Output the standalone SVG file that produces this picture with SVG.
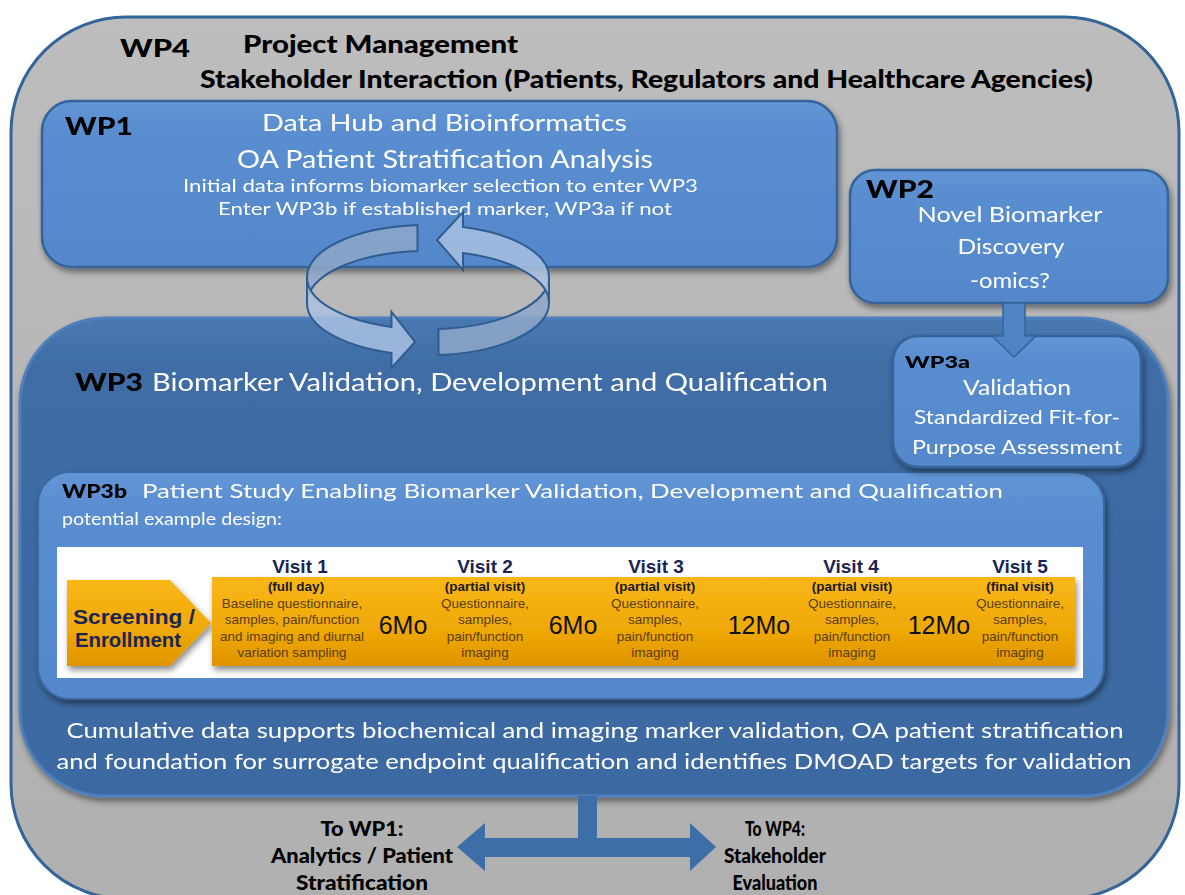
<svg xmlns="http://www.w3.org/2000/svg" width="1185" height="895" viewBox="0 0 1185 895">
<defs>
<style>
.b{font-family:Lato,"Liberation Sans",sans-serif;font-weight:900;fill:#000;}
.w{font-family:Lato,"Open Sans","Liberation Sans",sans-serif;fill:#fff;}
.a{font-family:"Liberation Sans",Arial,sans-serif;}
.vh{font-family:"Liberation Sans",Arial,sans-serif;font-weight:bold;fill:#1b2452;font-size:19px;text-anchor:middle;}
.vs{font-family:"Liberation Sans",Arial,sans-serif;font-weight:bold;fill:#1a1a1a;font-size:13.5px;text-anchor:middle;}
.vl{font-family:"Liberation Sans",Arial,sans-serif;fill:#5a3d12;font-size:13.5px;text-anchor:middle;}
.mo{font-family:"Liberation Sans",Arial,sans-serif;fill:#111;font-size:25px;text-anchor:middle;}
.lb{font-family:Lato,"Liberation Sans",sans-serif;font-weight:900;fill:#000;font-size:21px;text-anchor:middle;}
.box{stroke:#34639a;stroke-width:2.5;}
.ring1{fill:#a9c1e2;fill-opacity:0.85;stroke:#2f5d91;stroke-width:2;}
.ring2{fill:#8ea7c8;fill-opacity:0.85;stroke:#2f5d91;stroke-width:2;}
</style>
<filter id="sh" x="-10%" y="-10%" width="120%" height="130%">
<feDropShadow dx="2" dy="4" stdDeviation="3" flood-color="#000" flood-opacity="0.45"/>
</filter>
<linearGradient id="gOuter" x1="0" y1="0" x2="0" y2="1">
<stop offset="0" stop-color="#bdbdbd"/><stop offset="1" stop-color="#b0b0b0"/>
</linearGradient>
<linearGradient id="gLight" x1="0" y1="0" x2="0" y2="1">
<stop offset="0" stop-color="#6296d6"/><stop offset="0.15" stop-color="#5a8ed0"/><stop offset="1" stop-color="#5488ca"/>
</linearGradient>
<linearGradient id="gDark" x1="0" y1="0" x2="0" y2="1">
<stop offset="0" stop-color="#4a78b0"/><stop offset="0.1" stop-color="#3f6da6"/><stop offset="1" stop-color="#3c69a2"/>
</linearGradient>
<linearGradient id="gOrange" x1="0" y1="0" x2="0" y2="1">
<stop offset="0" stop-color="#f9b718"/><stop offset="0.6" stop-color="#efa806"/><stop offset="1" stop-color="#df9400"/>
</linearGradient>
</defs>

<g id="WP4">
<rect x="11" y="17" width="1168" height="882" rx="115" ry="115" fill="url(#gOuter)" stroke="#33649a" stroke-width="3"/>
<text class="b" x="120" y="57" font-size="25" textLength="70" lengthAdjust="spacingAndGlyphs">WP4</text>
<text class="b" x="243" y="53" font-size="24" textLength="275" lengthAdjust="spacingAndGlyphs">Project  Management</text>
<text class="b" x="200" y="88" font-size="24" textLength="893" lengthAdjust="spacingAndGlyphs">Stakeholder Interaction (Patients, Regulators and Healthcare Agencies)</text>
</g>

<g id="WP1" filter="url(#sh)">
<rect x="42" y="101" width="795" height="166" rx="30" ry="30" fill="url(#gLight)" class="box"/>
<text class="b" x="65" y="135" font-size="24" textLength="68" lengthAdjust="spacingAndGlyphs">WP1</text>
<text class="w" x="262" y="131" font-size="24" textLength="365" lengthAdjust="spacingAndGlyphs">Data Hub and Bioinformatics</text>
<text class="w" x="237" y="168" font-size="25" textLength="416" lengthAdjust="spacingAndGlyphs">OA Patient Stratification Analysis</text>
<text class="w" x="183" y="192" font-size="18" textLength="515" lengthAdjust="spacingAndGlyphs">Initial data informs biomarker selection to enter WP3</text>
<text class="w" x="218" y="215" font-size="18" textLength="454" lengthAdjust="spacingAndGlyphs">Enter WP3b if established marker, WP3a if not</text>
</g>

<g id="WP2" filter="url(#sh)">
<rect x="850" y="170" width="318" height="133" rx="25" ry="25" fill="url(#gLight)" class="box"/>
<text class="b" x="866" y="198" font-size="24" textLength="68" lengthAdjust="spacingAndGlyphs">WP2</text>
<text class="w" x="1010" y="222" font-size="21" text-anchor="middle" textLength="185" lengthAdjust="spacingAndGlyphs">Novel Biomarker</text>
<text class="w" x="1011" y="254" font-size="21" text-anchor="middle" textLength="107" lengthAdjust="spacingAndGlyphs">Discovery</text>
<text class="w" x="1010" y="288" font-size="21" text-anchor="middle" textLength="80" lengthAdjust="spacingAndGlyphs">-omics?</text>
</g>

<g id="WP3" filter="url(#sh)">
<rect x="20" y="318" width="1148" height="478" rx="85" ry="85" fill="url(#gDark)" stroke="#4f80bd" stroke-width="3"/>
<text class="b" x="75" y="391" font-size="24" textLength="68" lengthAdjust="spacingAndGlyphs">WP3</text>
<text class="w" x="152" y="391" font-size="25" textLength="676" lengthAdjust="spacingAndGlyphs">Biomarker Validation, Development and Qualification</text>
<text class="w" x="595" y="738" font-size="22" text-anchor="middle" textLength="1057" lengthAdjust="spacingAndGlyphs">Cumulative data supports biochemical and imaging marker validation, OA patient stratification</text>
<text class="w" x="594" y="769" font-size="22" text-anchor="middle" textLength="1075" lengthAdjust="spacingAndGlyphs">and foundation for surrogate endpoint qualification and identifies DMOAD targets for validation</text>
</g>

<g id="WP3b" filter="url(#sh)">
<rect x="38" y="472" width="1066" height="227" rx="32" ry="32" fill="url(#gLight)" stroke="#3a6aa2" stroke-width="2"/>
<text class="b" x="62" y="498" font-size="18" textLength="65" lengthAdjust="spacingAndGlyphs">WP3b</text>
<text class="w" x="142" y="498" font-size="20" textLength="861" lengthAdjust="spacingAndGlyphs">Patient Study Enabling  Biomarker Validation, Development and Qualification</text>
<text class="w" x="62" y="525" font-size="18" textLength="220" lengthAdjust="spacingAndGlyphs">potential example design:</text>
</g>

<g id="timeline">
<rect x="57" y="547" width="1026" height="131" fill="#ffffff"/>
<polygon points="67,580 170,580 211,623 170,666 67,666" fill="url(#gOrange)" filter="url(#sh)"/>
<rect x="212" y="577" width="863" height="89" fill="url(#gOrange)" filter="url(#sh)"/>
<text class="a" x="73" y="624" font-size="20" font-weight="bold" fill="#1b2452" textLength="122" lengthAdjust="spacingAndGlyphs">Screening /</text>
<text class="a" x="75" y="647" font-size="20" font-weight="bold" fill="#1b2452" textLength="106" lengthAdjust="spacingAndGlyphs">Enrollment</text>

<text class="vh" x="300" y="573">Visit 1</text>
<text class="vs" x="296" y="591">(full day)</text>
<text class="vl" x="292" y="608">Baseline questionnaire,</text>
<text class="vl" x="292" y="624">samples, pain/function</text>
<text class="vl" x="292" y="641">and imaging and diurnal</text>
<text class="vl" x="292" y="657">variation sampling</text>

<text class="mo" x="403" y="634">6Mo</text>

<text class="vh" x="485" y="573">Visit 2</text>
<text class="vs" x="485" y="591">(partial visit)</text>
<text class="vl" x="485" y="608">Questionnaire,</text>
<text class="vl" x="485" y="624">samples,</text>
<text class="vl" x="485" y="641">pain/function</text>
<text class="vl" x="485" y="657">imaging</text>

<text class="mo" x="573" y="634">6Mo</text>

<text class="vh" x="656" y="573">Visit 3</text>
<text class="vs" x="655" y="591">(partial visit)</text>
<text class="vl" x="655" y="608">Questionnaire,</text>
<text class="vl" x="655" y="624">samples,</text>
<text class="vl" x="655" y="641">pain/function</text>
<text class="vl" x="655" y="657">imaging</text>

<text class="mo" x="759" y="634">12Mo</text>

<text class="vh" x="851" y="573">Visit 4</text>
<text class="vs" x="852" y="591">(partial visit)</text>
<text class="vl" x="852" y="608">Questionnaire,</text>
<text class="vl" x="852" y="624">samples,</text>
<text class="vl" x="852" y="641">pain/function</text>
<text class="vl" x="852" y="657">imaging</text>

<text class="mo" x="939" y="634">12Mo</text>

<text class="vh" x="1020" y="573">Visit 5</text>
<text class="vs" x="1020" y="591">(final visit)</text>
<text class="vl" x="1020" y="608">Questionnaire,</text>
<text class="vl" x="1020" y="624">samples,</text>
<text class="vl" x="1020" y="641">pain/function</text>
<text class="vl" x="1020" y="657">imaging</text>
</g>

<g id="WP3a" filter="url(#sh)">
<rect x="893" y="336" width="248" height="131" rx="25" ry="25" fill="url(#gLight)" stroke="#34639a" stroke-width="2.5"/>
<text class="b" x="905" y="368" font-size="17" textLength="65" lengthAdjust="spacingAndGlyphs">WP3a</text>
<text class="w" x="1017" y="395" font-size="21" text-anchor="middle" textLength="108" lengthAdjust="spacingAndGlyphs">Validation</text>
<text class="w" x="1017" y="424" font-size="20" text-anchor="middle" textLength="206" lengthAdjust="spacingAndGlyphs">Standardized Fit-for-</text>
<text class="w" x="1017" y="454" font-size="20" text-anchor="middle" textLength="210" lengthAdjust="spacingAndGlyphs">Purpose  Assessment</text>
</g>

<g id="connectors">
<polygon points="1003,303 1025,303 1025,336 1036,336 1014,357 992,336 1003,336" fill="#4f84c4" stroke="#34639a" stroke-width="1.5"/>
<g id="cycle">
<path class="ring2" d="M417.5,225 A121,52 0 0 0 307,277 L307,303 A121,52 0 0 1 417.5,251 Z"/>
<path class="ring2" d="M438.5,329 A121,52 0 0 0 549,277 L549,303 A121,52 0 0 1 438.5,355 Z"/>
<path class="ring1" d="M549,277 A121,52 0 0 0 463,227 L463,212 L437,240 L463,270 L463,253 A121,52 0 0 1 549,303 Z"/>
<path class="ring1" d="M307,277 A121,52 0 0 0 391.5,327 L391.5,312 L415,342 L391.5,368 L391.5,353 A121,52 0 0 1 307,303 Z"/>
</g>
<polygon points="578,796 597,796 597,838 690,838 690,823 716,847 690,871 690,857 485,857 485,871 457,847 485,823 485,838 578,838" fill="#3e6ea8"/>
</g>

<g id="labels">
<text class="lb" x="362" y="836" textLength="83" lengthAdjust="spacingAndGlyphs">To WP1:</text>
<text class="lb" x="362" y="863" textLength="182" lengthAdjust="spacingAndGlyphs">Analytics / Patient</text>
<text class="lb" x="362" y="890" textLength="132" lengthAdjust="spacingAndGlyphs">Stratification</text>
<text class="lb" x="775" y="836" textLength="60" lengthAdjust="spacingAndGlyphs">To WP4:</text>
<text class="lb" x="775" y="863" textLength="102" lengthAdjust="spacingAndGlyphs">Stakeholder</text>
<text class="lb" x="775" y="890" textLength="85" lengthAdjust="spacingAndGlyphs">Evaluation</text>
</g>
</svg>
